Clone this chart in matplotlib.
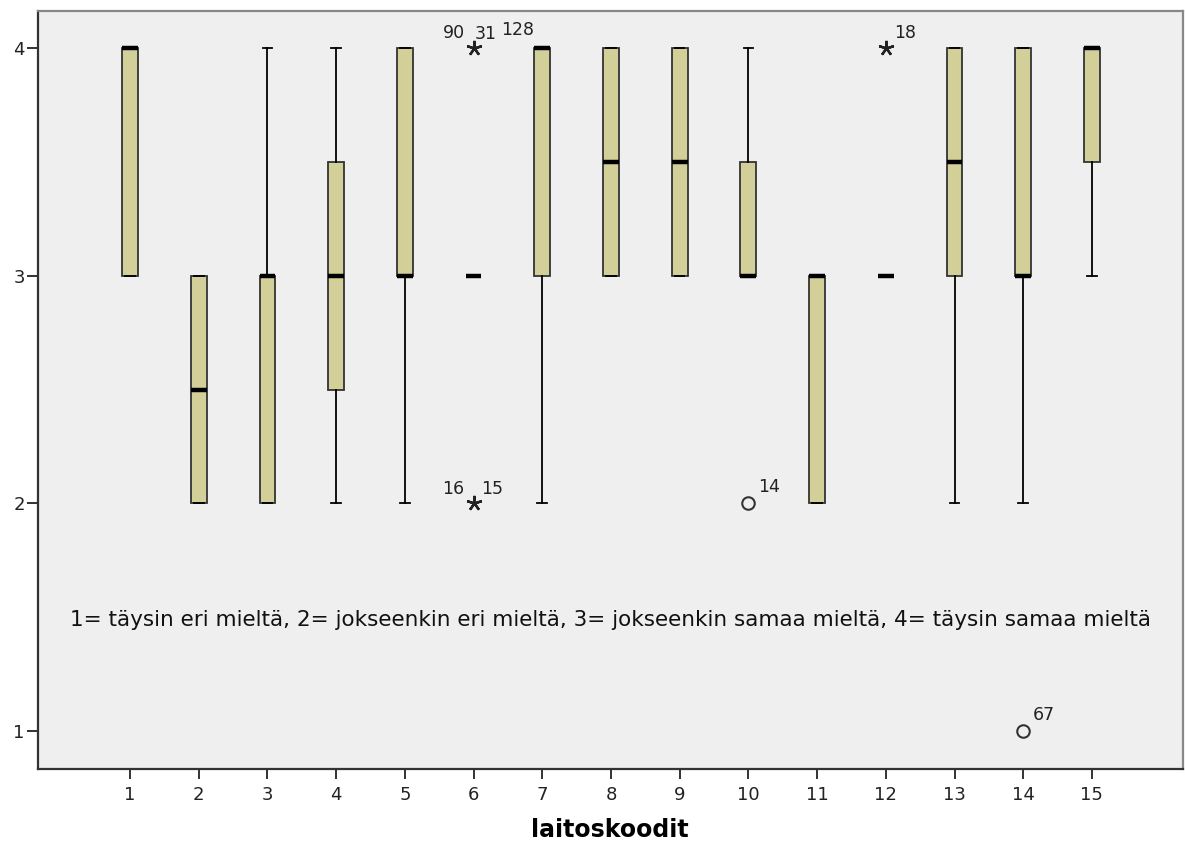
import matplotlib
matplotlib.use("Agg")
import matplotlib.pyplot as plt

# laitoskoodit 1..15, vastaukset asteikolla 1-4
groups = list(range(1, 16))
q1 = [3, 2, 2, 2.5, 3, 3, 3, 3, 3, 3, 2, 3, 3, 3, 3.5]
median = [4, 2.5, 3, 3, 3, 3, 4, 3.5, 3.5, 3, 3, 3, 3.5, 3, 4]
q3 = [4, 3, 3, 3.5, 4, 3, 4, 4, 4, 3.5, 3, 3, 4, 4, 4]
whis_lo = [3, 2, 2, 2, 2, 3, 2, 3, 3, 3, 2, 3, 2, 2, 3]
whis_hi = [4, 3, 4, 4, 4, 3, 4, 4, 4, 4, 3, 3, 4, 4, 4]

# ääriarvot (*) ja poikkeavat (o) tunnisteineen
extreme_x = [6, 6, 12]
extreme_y = [4, 2, 4]
extreme_ids = [["90", "31", "128"], ["16", "15"], ["18"]]
outlier_x = [10, 14]
outlier_y = [2, 1]
outlier_ids = [["14"], ["67"]]

note = ("1= täysin eri mieltä, 2= jokseenkin eri mieltä, "
        "3= jokseenkin samaa mieltä, 4= täysin samaa mieltä")

BOX = "#d3cf98"
BG = "#efefef"

fig = plt.figure(figsize=(11.85, 8.47), dpi=100)
ax = fig.add_axes([0.032, 0.092, 0.966, 0.895])
ax.set_facecolor(BG)

stats = []
for i in range(len(groups)):
    stats.append(dict(q1=q1[i], med=median[i], q3=q3[i],
                      whislo=whis_lo[i], whishi=whis_hi[i], fliers=[]))

ax.bxp(stats, positions=groups, widths=0.23, showfliers=False,
       patch_artist=True, capwidths=0.14,
       boxprops=dict(facecolor=BOX, edgecolor="#333333", linewidth=1.3),
       medianprops=dict(color="black", linewidth=3.2, solid_capstyle="butt"),
       whiskerprops=dict(color="black", linewidth=1.3),
       capprops=dict(color="black", linewidth=1.3))

ax.plot(extreme_x, extreme_y, linestyle="none", marker=(5, 2, 0),
        markersize=11, markeredgewidth=1.7, color="#222222", zorder=5)
ax.plot(outlier_x, outlier_y, linestyle="none", marker="o", markersize=9,
        markerfacecolor="none", markeredgecolor="#333333",
        markeredgewidth=1.5, zorder=5)

# tunnisteiden sijoittelu (pikseleinä pisteestä)
extreme_offsets = [[(-31, 10), (1, 9), (28, 13)], [(-31, 9), (8, 9)], [(8, 10)]]
for x, y, ids, offs in zip(extreme_x, extreme_y, extreme_ids, extreme_offsets):
    for lab, (dx, dy) in zip(ids, offs):
        ax.annotate(lab, (x, y), xytext=(dx, dy), textcoords="offset pixels",
                    fontsize=12.5, color="#222222")
for x, y, ids in zip(outlier_x, outlier_y, outlier_ids):
    ax.annotate(ids[0], (x, y), xytext=(10, 11), textcoords="offset pixels",
                fontsize=12.5, color="#222222")

ax.text(8.0, 1.49, note, ha="center", va="center", fontsize=15.5,
        color="#111111")

ax.set_xlim(-0.34, 16.32)
ax.set_ylim(0.833, 4.163)
ax.set_xticks(groups)
ax.set_xticklabels([str(g) for g in groups])
ax.set_yticks([1, 2, 3, 4])
ax.set_yticklabels(["1", "2", "3", "4"])
ax.tick_params(axis="both", labelsize=13, width=1.3, colors="#222222")
ax.tick_params(axis="x", length=7, pad=5)
ax.tick_params(axis="y", length=8, pad=1.5)
ax.set_xlabel("laitoskoodit", fontsize=17, fontweight="bold", labelpad=10)

for side in ["left", "bottom"]:
    ax.spines[side].set_color("#333333")
    ax.spines[side].set_linewidth(1.6)
for side in ["top", "right"]:
    ax.spines[side].set_color("#888888")
    ax.spines[side].set_linewidth(1.6)

fig.savefig("out.png", dpi=100)
